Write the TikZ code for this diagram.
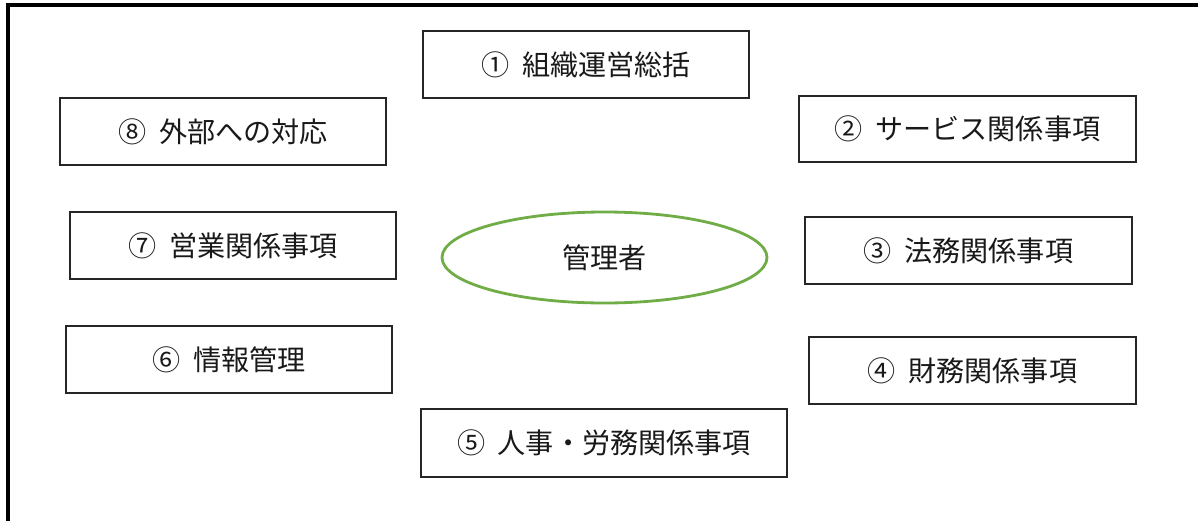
\documentclass[tikz,border=0pt]{standalone}
\usepackage{fontspec}
\newfontfamily\jp{Noto Sans CJK JP}
\usetikzlibrary{shapes.geometric}
\definecolor{ellgreen}{HTML}{70AD47}
\newcommand{\gapsp}{\hspace{0.45em}}
\tikzset{
  itembox/.style={draw=black!85, line width=0.9pt, rectangle, inner sep=0pt,
    font=\jp\fontsize{16}{19}\selectfont, text=black!90},
  hub/.style={draw=ellgreen, line width=1.6pt, ellipse, inner sep=0pt,
    font=\jp\fontsize{16}{19}\selectfont, text=black!90},
  frame/.style={draw=black, line width=2pt}
}
\begin{document}
\begin{tikzpicture}[x=0.02cm,y=-0.02cm]
\useasboundingbox (0,0) rectangle (1198,521);
\begin{scope}
\clip (0,0) rectangle (1198,521);
\draw[frame] (8,540) -- (8,5) -- (1220,5);
\end{scope}
\node[itembox, minimum width=326*0.02cm, minimum height=67*0.02cm] (b1) at (586,64.5) {①\gapsp 組織運営総括};
\node[itembox, minimum width=337*0.02cm, minimum height=66*0.02cm] (b2) at (967.5,129) {②\gapsp サービス関係事項};
\node[itembox, minimum width=326*0.02cm, minimum height=67*0.02cm] (b8) at (223,131.5) {⑧\gapsp 外部への対応};
\node[itembox, minimum width=326*0.02cm, minimum height=67*0.02cm] (b7) at (233,245.5) {⑦\gapsp 営業関係事項};
\node[itembox, minimum width=327*0.02cm, minimum height=67*0.02cm] (b3) at (968.5,250.5) {③\gapsp 法務関係事項};
\node[itembox, minimum width=326*0.02cm, minimum height=67*0.02cm] (b6) at (229,359.5) {⑥\gapsp 情報管理};
\node[itembox, minimum width=327*0.02cm, minimum height=67*0.02cm] (b4) at (972.5,370.5) {④\gapsp 財務関係事項};
\node[itembox, minimum width=366*0.02cm, minimum height=68*0.02cm] (b5) at (604,443) {⑤\gapsp 人事・労務関係事項};
\node[hub, minimum width=325*0.02cm, minimum height=91*0.02cm] (hub) at (604.5,257.5) {管理者};
\end{tikzpicture}
\end{document}
